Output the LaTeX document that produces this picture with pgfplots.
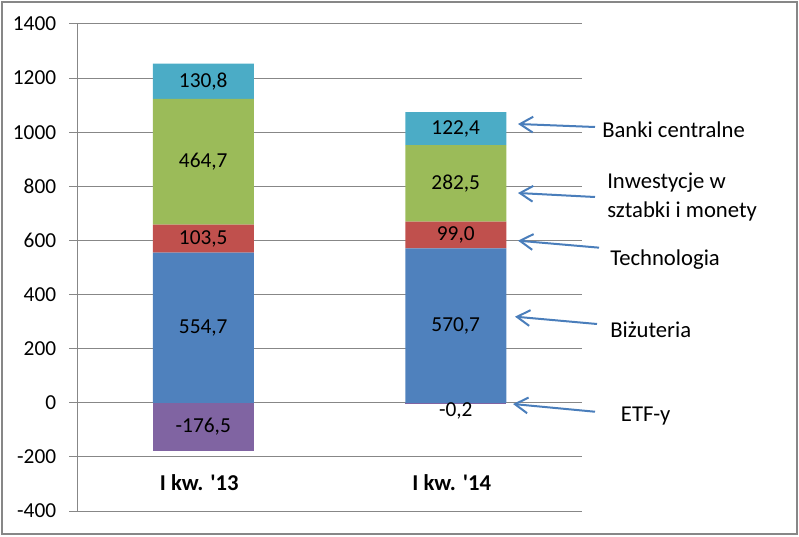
\documentclass[border=0pt]{standalone}
\usepackage{fontspec}
\setmainfont{Carlito}
\usepackage{pgfplots}
\pgfplotsset{compat=1.18}
\usetikzlibrary{arrows.meta}
\definecolor{cBiz}{HTML}{4F81BD}
\definecolor{cTech}{HTML}{C0504D}
\definecolor{cInw}{HTML}{9BBB59}
\definecolor{cBank}{HTML}{4BACC6}
\definecolor{cETF}{HTML}{8064A2}
\definecolor{cGrid}{HTML}{878787}
\definecolor{cArrow}{HTML}{4A7EBB}
\makeatletter
\pgfplotsset{
  calculate offset/.code={%
    \pgfkeys{/pgf/fpu=true,/pgf/fpu/output format=fixed}%
    \pgfmathsetmacro\testmacro{(\pgfplotspointmeta*10^\pgfplots@data@scale@trafo@EXPONENT@y)*\pgfplots@y@veclength}%
    \pgfkeys{/pgf/fpu=false}%
  },
  nodes near coords vertically centered/.style={
    every node near coord/.append style={
      anchor=center,
      /pgfplots/calculate offset,
      yshift={-(\testmacro)/2}
    }
  }
}
\makeatother
\pgfplotsset{
  base/.style={
    scale only axis, width=378.75pt, height=365.25pt,
    at={(57.75pt,18.75pt)}, anchor=south west,
    xmin=-0.5, xmax=1.5, ymin=-400, ymax=1400,
    bar width=0.4,
  },
  lbl/.style={
    nodes near coords={\pgfmathprintnumber[fixed,fixed zerofill,precision=1,use comma,assume math mode=true]{\pgfplotspointmeta}},
    every node near coord/.append style={text=black, font=\fontsize{16}{19}\selectfont},
  }
}
\begin{document}
\fontsize{17}{20}\selectfont
\begin{tikzpicture}
\useasboundingbox (0,0) rectangle (599.25pt,402pt);
\draw[cGrid, line width=1.5pt] (1.5pt,1.5pt) rectangle (597.75pt,400.5pt);
\begin{axis}[base, ybar stacked,
  axis x line*=bottom, axis y line*=left,
  x axis line style={draw=none},
  y axis line style={cGrid, line width=0.75pt},
  xtick={0,1}, xticklabels={I kw. \textquotesingle13, I kw. \textquotesingle14},
  x tick style={draw=none},
  xticklabel style={font=\bfseries\fontsize{17}{20}\selectfont, anchor=center, yshift=27pt, xshift=-3pt},
  ytick={-400,-200,...,1400},
  y tick style={cGrid, line width=0.75pt},
  tick align=outside, major tick length=5.75pt,
  ymajorgrids, grid style={cGrid, line width=0.75pt},
  /pgf/number format/assume math mode=true,
  /pgf/number format/1000 sep={},
  yticklabel style={font=\fontsize{16}{19}\selectfont, xshift=-4pt},
  every node near coord/.append style={anchor=center},
]
\addplot[fill=cBiz, draw=none, lbl] coordinates {(0,554.7) (1,570.7)};
\addplot[fill=cTech, draw=none, lbl] coordinates {(0,103.5) (1,99.0)};
\addplot[fill=cInw, draw=none, lbl] coordinates {(0,464.7) (1,282.5)};
\addplot[fill=cBank, draw=none, lbl] coordinates {(0,130.8) (1,122.4)};
\end{axis}
\begin{axis}[base, hide axis, ybar, bar shift=0pt]
\addplot[fill=cETF, draw=none, bar shift=0pt, lbl, nodes near coords vertically centered] coordinates {(0,-176.5)};
\addplot[fill=cETF, draw=none, bar shift=0pt, lbl, every node near coord/.append style={anchor=center, yshift=-6pt}] coordinates {(1,-0.2)};
\end{axis}
\begin{scope}[cArrow, line width=1.5pt, -{Straight Barb[length=9.75pt,width=11.8pt]}]
\draw (446.25pt,306.75pt) -- (388.5pt,309pt);
\draw (446.25pt,254.25pt) -- (388.5pt,257.25pt);
\draw (449.25pt,216.25pt) -- (388.5pt,221.5pt);
\draw (447.75pt,159pt) -- (386.25pt,164.5pt);
\draw (446.25pt,93.2pt) -- (384.75pt,99pt);
\end{scope}
\node[anchor=west, inner sep=0pt] at (451.5pt,304.5pt) {Banki centralne};
\node[anchor=west, inner sep=0pt] at (455.25pt,264.75pt) {Inwestycje w};
\node[anchor=west, inner sep=0pt] at (455.25pt,243.75pt) {sztabki i monety};
\node[anchor=west, inner sep=0pt] at (457.5pt,207pt) {Technologia};
\node[anchor=west, inner sep=0pt] at (457.5pt,154.9pt) {Biżuteria};
\node[anchor=west, inner sep=0pt] at (465.5pt,90pt) {ETF-y};
\end{tikzpicture}
\end{document}
